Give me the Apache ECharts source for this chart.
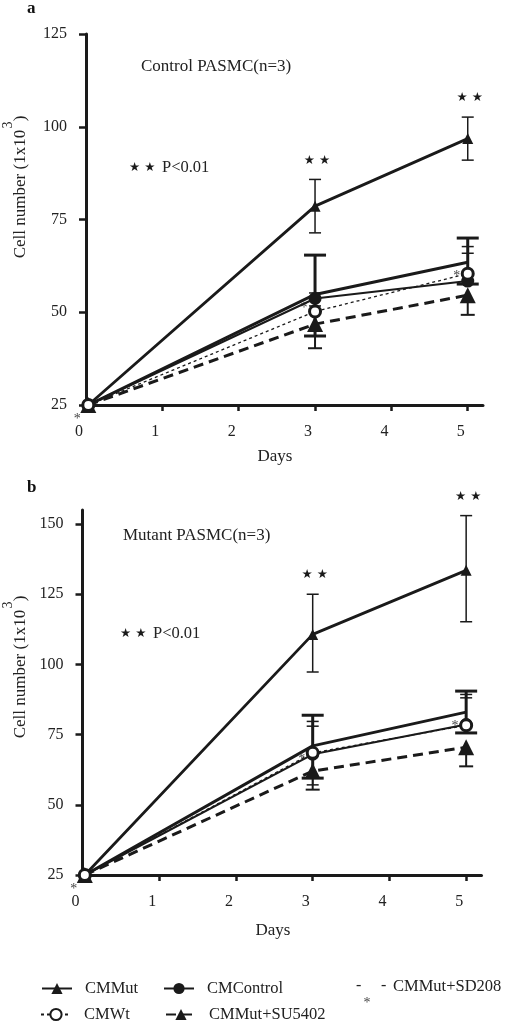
<!DOCTYPE html>
<html>
<head>
<meta charset="utf-8">
<script src="https://cdn.jsdelivr.net/npm/echarts@6/dist/echarts.min.js"></script>
<style>
html,body{margin:0;padding:0;background:#fff;}
#chart{width:505px;height:1024px;}
</style>
</head>
<body>
<div id="chart"></div>
<script>
// ---------- DATA ----------
const days = [0.03, 3, 5];
const xTickValues = [0, 1, 2, 3, 4, 5];
const yTicksA = [25, 50, 75, 100, 125];
const yTicksB = [25, 50, 75, 100, 125, 150];
const seriesNames = ['CMMut', 'CMControl', 'CMWt', 'CMMut+SU5402', 'CMMut+SD208'];

// Panel a: Control PASMC
const aMut = [25, 78.6, 96.8];
const aMutUp = [0, 7.2, 5.8];
const aMutDn = [0, 7.2, 5.8];
const aControl = [25, 53.7, 58.4];
const aControlUp = [0, 1.5, 7.5];
const aControlDn = [0, 0, 0];
const aWt = [25, 50.2, 60.4];
const aWtUp = [0, 1.5, 7.3];
const aWtDn = [0, 0, 0];
const aSU = [25, 46.8, 54.6];
const aSUUp = [0, 0, 0];
const aSUDn = [0, 6.5, 5.3];
const aSD = [25, 54.8, 63.5];
const aSDUp = [0, 10.6, 6.5];
const aSDDn = [0, 11.2, 5.9];
const aStars = ['', '\u2605 \u2605', '\u2605 \u2605'];

// Panel b: Mutant PASMC
const bMut = [25, 110.7, 133.5];
const bMutUp = [0, 14.3, 19.5];
const bMutDn = [0, 13.4, 18.3];
const bControl = [25, 68.0, 78.6];
const bControlUp = [0, 10.0, 9.5];
const bControlDn = [0, 10.9, 0];
const bWt = [25, 68.5, 78.3];
const bWtUp = [0, 11.2, 11.0];
const bWtDn = [0, 0, 0];
const bSU = [25, 62.0, 70.5];
const bSUUp = [0, 0, 0];
const bSUDn = [0, 6.6, 6.8];
const bSD = [25, 71.0, 83.0];
const bSDUp = [0, 10.9, 7.5];
const bSDDn = [0, 11.5, 7.4];
const bStars = ['', '\u2605 \u2605', '\u2605 \u2605'];

// ---------- STYLE ----------
const INK = '#1a1a1a';
const FONT = 'Liberation Serif, Times New Roman, serif';

function pts(vals) { return days.map((d, i) => [d, vals[i]]); }
function errPts(vals, up, dn) { return days.map((d, i) => [d, vals[i], up[i], dn[i]]); }

function errSeries(g, vals, up, dn, capHalf, lw, stars) {
  return {
    type: 'custom', xAxisIndex: g, yAxisIndex: g, z: 3, silent: true,
    encode: { x: 0, y: 1 },
    data: errPts(vals, up, dn),
    renderItem: function (params, api) {
      const x = api.value(0), y = api.value(1), u = api.value(2), d = api.value(3);
      const top = api.coord([x, y + u]);
      const bot = api.coord([x, y - d]);
      const st = { stroke: INK, lineWidth: lw };
      const ch = [];
      if (u > 0 || d > 0) {
        ch.push({ type: 'line', shape: { x1: top[0], y1: top[1], x2: bot[0], y2: bot[1] }, style: st });
      }
      if (u > 0) ch.push({ type: 'line', shape: { x1: top[0] - capHalf, y1: top[1], x2: top[0] + capHalf, y2: top[1] }, style: st });
      if (d > 0) ch.push({ type: 'line', shape: { x1: bot[0] - capHalf, y1: bot[1], x2: bot[0] + capHalf, y2: bot[1] }, style: st });
      if (stars && stars[params.dataIndex]) {
        ch.push({ type: 'text', x: top[0] + 2, y: top[1] - 19,
          style: { text: stars[params.dataIndex], fill: INK, fontSize: 12.5, fontFamily: 'DejaVu Sans', align: 'center', verticalAlign: 'middle' } });
      }
      return { type: 'group', children: ch };
    }
  };
}

function panelSeries(g, d) {
  return [
    errSeries(g, d.sd, d.sdUp, d.sdDn, 11, 3, null),
    errSeries(g, d.mut, d.mutUp, d.mutDn, 6, 1.5, d.stars),
    errSeries(g, d.ctl, d.ctlUp, d.ctlDn, 6, 1.5, null),
    errSeries(g, d.wt, d.wtUp, d.wtDn, 6, 1.5, null),
    errSeries(g, d.su, d.suUp, d.suDn, 7, 2, null),
    { name: 'CMMut', type: 'line', xAxisIndex: g, yAxisIndex: g, data: pts(d.mut), z: 5,
      symbol: 'triangle', symbolSize: 11, itemStyle: { color: INK },
      lineStyle: { color: INK, width: 2.8 } },
    { name: 'CMMut+SD208', type: 'line', xAxisIndex: g, yAxisIndex: g, data: pts(d.sd), z: 4,
      symbol: 'circle', symbolSize: 0.1, itemStyle: { color: INK },
      lineStyle: { color: INK, width: 3 },
      label: { show: true, formatter: '*', position: [-11, 14], align: 'center', verticalAlign: 'middle',
        fontFamily: FONT, fontSize: 14, color: '#444' } },
    { name: 'CMControl', type: 'line', xAxisIndex: g, yAxisIndex: g, data: pts(d.ctl), z: 5,
      symbol: 'circle', symbolSize: 13, itemStyle: { color: INK },
      lineStyle: { color: INK, width: 2 } },
    { name: 'CMWt', type: 'line', xAxisIndex: g, yAxisIndex: g, data: pts(d.wt), z: 6,
      symbol: 'circle', symbolSize: 11, itemStyle: { color: '#fff', borderColor: INK, borderWidth: 3 },
      lineStyle: { color: INK, width: 1.3, type: [3, 3] } },
    { name: 'CMMut+SU5402', type: 'line', xAxisIndex: g, yAxisIndex: g, data: pts(d.su), z: 5,
      symbol: 'triangle', symbolSize: 16, itemStyle: { color: INK },
      lineStyle: { color: INK, width: 3, type: [10, 6] } }
  ];
}

function xAxisCfg(g) {
  return {
    type: 'value', gridIndex: g, min: 0, max: 5.2, interval: 1,
    axisLine: { show: true, onZero: false, lineStyle: { color: INK, width: 3 } },
    axisTick: { show: true, length: 6, lineStyle: { color: INK, width: 2.5 }, customValues: [1, 2, 3, 4, 5] },
    axisLabel: { customValues: xTickValues, fontFamily: FONT, fontSize: 16, color: '#222', margin: 19, padding: [0, 14, 0, 0] },
    splitLine: { show: false }
  };
}
function yAxisCfg(g, max, ticks) {
  return {
    type: 'value', gridIndex: g, min: 25, max: max, interval: 25,
    axisLine: { show: true, onZero: false, lineStyle: { color: INK, width: 3 } },
    axisTick: { show: true, length: 7, lineStyle: { color: INK, width: 2.5 }, customValues: ticks },
    axisLabel: { customValues: ticks, fontFamily: FONT, fontSize: 16, color: '#222', margin: 19 },
    splitLine: { show: false }
  };
}

const dataA = { mut: aMut, mutUp: aMutUp, mutDn: aMutDn, ctl: aControl, ctlUp: aControlUp, ctlDn: aControlDn,
  wt: aWt, wtUp: aWtUp, wtDn: aWtDn, su: aSU, suUp: aSUUp, suDn: aSUDn, sd: aSD, sdUp: aSDUp, sdDn: aSDDn, stars: aStars };
const dataB = { mut: bMut, mutUp: bMutUp, mutDn: bMutDn, ctl: bControl, ctlUp: bControlUp, ctlDn: bControlDn,
  wt: bWt, wtUp: bWtUp, wtDn: bWtDn, su: bSU, suUp: bSUUp, suDn: bSUDn, sd: bSD, sdUp: bSDUp, sdDn: bSDDn, stars: bStars };

function txt(x, y, text, opts) {
  return Object.assign({ type: 'text', x: x, y: y,
    style: Object.assign({ text: text, fill: '#222', fontFamily: FONT, fontSize: 16, verticalAlign: 'middle' }, opts || {}) });
}
function yName(cx, cy) {
  return [
    { type: 'text', x: cx, y: cy, rotation: Math.PI / 2,
      style: { text: 'Cell number (1x10  )', fill: '#222', fontFamily: FONT, fontSize: 17, align: 'center', verticalAlign: 'middle' } },
    { type: 'text', x: cx - 13, y: cy - 62, rotation: Math.PI / 2,
      style: { text: '3', fill: '#222', fontFamily: FONT, fontSize: 14, align: 'center', verticalAlign: 'middle' } }
  ];
}

const legendCommon = { itemWidth: 30, itemHeight: 14, textStyle: { fontFamily: FONT, fontSize: 16.5, color: '#222', padding: [0, 0, 0, 8] }, selectedMode: false };

const option = {
  animation: false,
  backgroundColor: '#fff',
  grid: [
    { left: 86, top: 34, width: 397, height: 371 },
    { left: 82.5, top: 510, width: 399, height: 365 }
  ],
  xAxis: [xAxisCfg(0), xAxisCfg(1)],
  yAxis: [yAxisCfg(0, 125, yTicksA), yAxisCfg(1, 155, yTicksB)],
  legend: [
    Object.assign({ data: ['CMMut'], left: 36, top: 975 }, legendCommon),
    Object.assign({ data: ['CMControl'], left: 158, top: 975 }, legendCommon),
    Object.assign({ data: ['CMWt'], left: 35, top: 1001 }, legendCommon),
    Object.assign({ data: ['CMMut+SU5402'], left: 160, top: 1001 }, legendCommon)
  ],
  graphic: [
    txt(27, 9, 'a', { fontWeight: 'bold', fontSize: 17, fill: '#111' }),
    txt(27, 488, 'b', { fontWeight: 'bold', fontSize: 17, fill: '#111' }),
    txt(141, 67, 'Control PASMC(n=3)', { fontSize: 17 }),
    txt(123, 536, 'Mutant PASMC(n=3)', { fontSize: 17 }),
    txt(129, 168, '\u2605 \u2605', { fontFamily: 'DejaVu Sans', fontSize: 12.5, fill: INK }),
    txt(162, 168, 'P<0.01', { fontSize: 16.5 }),
    txt(120, 634, '\u2605 \u2605', { fontFamily: 'DejaVu Sans', fontSize: 12.5, fill: INK }),
    txt(153, 634, 'P<0.01', { fontSize: 16.5 }),
    txt(275, 457, 'Days', { align: 'center', fontSize: 17 }),
    txt(273, 931, 'Days', { align: 'center', fontSize: 17 }),
    ...yName(21, 187),
    ...yName(21, 667),
    txt(356, 986, '-', { fontSize: 16 }),
    txt(381, 986, '-', { fontSize: 16 }),
    txt(367, 1003, '*', { fontSize: 14, fill: '#444', align: 'center' }),
    txt(393, 987, 'CMMut+SD208', { fontSize: 16.5 })
  ],
  series: [...panelSeries(0, dataA), ...panelSeries(1, dataB)]
};

const chart = echarts.init(document.getElementById('chart'), null, { renderer: 'canvas' });
chart.setOption(option);
</script>
</body>
</html>
